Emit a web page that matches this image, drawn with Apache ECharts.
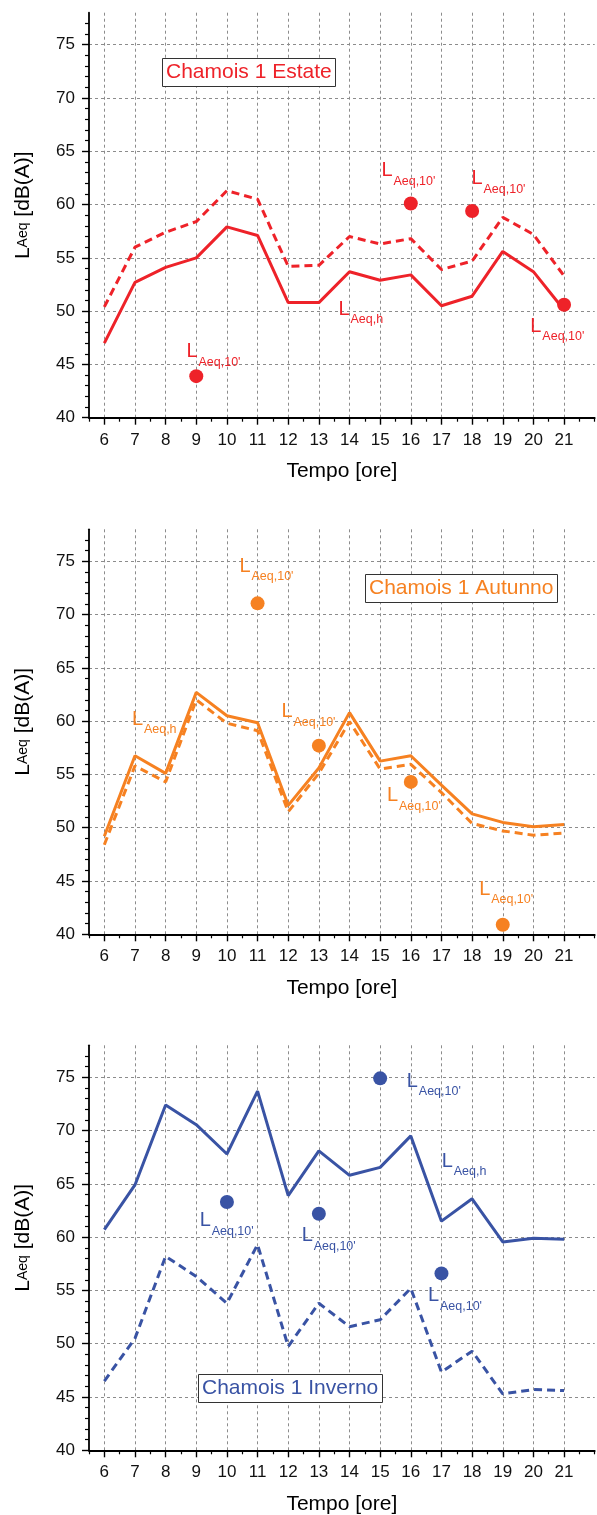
<!DOCTYPE html>
<html><head><meta charset="utf-8">
<script src="https://cdn.jsdelivr.net/npm/echarts@6/dist/echarts.min.js"></script>
<style>html,body{margin:0;padding:0;background:#fff}#c{width:597px;height:1515px}</style>
</head><body><div id="c"></div>
<script>
// ---------- data ----------
const hours = [6,7,8,9,10,11,12,13,14,15,16,17,18,19,20,21];
const yMajorTicks = [40,45,50,55,60,65,70,75];
const yMinorTicks = [41,42,43,44,46,47,48,49,51,52,53,54,56,57,58,59,61,62,63,64,66,67,68,69,71,72,73,74,76,77];

// Estate (red)
const estateHourly = [47.0,52.7,54.1,55.0,57.9,57.1,50.8,50.8,53.7,52.9,53.4,50.5,51.4,55.6,53.7,50.1];
const estateDashed = [50.4,56.0,57.4,58.4,61.3,60.5,54.2,54.3,57.0,56.3,56.8,53.9,54.7,58.8,57.2,53.3];
const estateDotHours = [9,16,18,21];
const estateDotValues = [43.9,60.1,59.4,50.6];
const estateLabelX = [8.68,15.04,17.98,13.64,19.9];
const estateLabelY = [46.2,63.15,62.4,50.16,48.56];
const estateLabelSub = ["Aeq,10'","Aeq,10'","Aeq,10'","Aeq,h","Aeq,10'"];

// Autunno (orange)
const autunnoHourly = [49.2,56.75,55.1,62.7,60.5,59.85,52.1,55.6,60.8,56.25,56.75,54.0,51.3,50.5,50.1,50.3];
const autunnoDashed = [48.4,55.8,54.3,62.0,59.8,59.1,51.5,55.1,59.95,55.5,55.95,53.3,50.4,49.7,49.3,49.5];
const autunnoDotHours = [11,13,16,19];
const autunnoDotValues = [71.05,57.7,54.3,40.9];
const autunnoLabelX = [10.41,11.78,6.9,15.22,18.23];
const autunnoLabelY = [74.55,60.86,60.2,52.98,44.2];
const autunnoLabelSub = ["Aeq,10'","Aeq,10'","Aeq,h","Aeq,10'","Aeq,10'"];

// Inverno (blue)
const invernoHourly = [60.7,64.9,72.4,70.55,67.8,73.7,63.9,68.1,65.8,66.55,69.5,61.5,63.6,59.55,59.9,59.8];
const invernoDashed = [46.5,50.5,58.2,56.3,53.8,59.3,49.75,53.8,51.6,52.25,55.2,47.35,49.3,45.3,45.7,45.6];
const invernoDotHours = [10,13,15,17];
const invernoDotValues = [63.3,62.2,74.9,56.6];
const invernoLabelX = [9.11,12.44,15.87,17.01,16.56];
const invernoLabelY = [61.55,60.14,74.6,67.1,54.5];
const invernoLabelSub = ["Aeq,10'","Aeq,10'","Aeq,10'","Aeq,h","Aeq,10'"];

const panelTitles = ["Chamois 1 Estate","Chamois 1 Autunno","Chamois 1 Inverno"];
const xAxisTitle = "Tempo [ore]";

// ---------- layout / style ----------
const FONT = '"Liberation Sans", Arial, sans-serif';
const COLORS = ['#ee2229','#f68121','#3953a4'];
const gridTops = [12.7, 529.3, 1045.3];
const GRID_LEFT = 89, GRID_W = 505.7, GRID_H = 405;
const titlePos = [[162,58],[365,574],[198,1374]];

const panels = [
  {hourly: estateHourly, dashed: estateDashed, dh: estateDotHours, dv: estateDotValues, lx: estateLabelX, ly: estateLabelY, ls: estateLabelSub},
  {hourly: autunnoHourly, dashed: autunnoDashed, dh: autunnoDotHours, dv: autunnoDotValues, lx: autunnoLabelX, ly: autunnoLabelY, ls: autunnoLabelSub},
  {hourly: invernoHourly, dashed: invernoDashed, dh: invernoDotHours, dv: invernoDotValues, lx: invernoLabelX, ly: invernoLabelY, ls: invernoLabelSub}
];

const majorX = hours;
const minorX = hours.map(h => h - 0.5).concat([21.5, 22]);

const grid = [], xAxis = [], yAxis = [], series = [], title = [];
panels.forEach((p, i) => {
  const color = COLORS[i];
  grid.push({left: GRID_LEFT, top: gridTops[i], width: GRID_W, height: GRID_H, containLabel: false, outerBoundsMode: 'none'});
  xAxis.push({
    gridIndex: i, type: 'value', min: 5.5, max: 22, interval: 0.5, position: 'bottom',
    axisLine: {show: true, onZero: false, lineStyle: {color: '#000', width: 1.8}},
    axisTick: {show: true, customValues: majorX, length: 7, inside: false, lineStyle: {color: '#000', width: 1.4}},
    axisLabel: {show: true, customValues: hours, margin: 14, fontSize: 17, color: '#111', fontFamily: FONT},
    splitLine: {show: true, lineStyle: {type: [3, 3], color: '#8c8c8c', width: 1}},
    name: xAxisTitle, nameLocation: 'middle', nameGap: 43,
    nameTextStyle: {fontSize: 21, color: '#000', fontFamily: FONT}
  });
  xAxis.push({
    gridIndex: i, type: 'value', min: 5.5, max: 22, interval: 0.5, position: 'bottom',
    axisLine: {show: false, onZero: false},
    axisTick: {show: true, customValues: minorX, length: 4, lineStyle: {color: '#000', width: 1.2}},
    axisLabel: {show: false}, splitLine: {show: false}
  });
  yAxis.push({
    gridIndex: i, type: 'value', min: 40, max: 78, interval: 5, position: 'left',
    axisLine: {show: true, onZero: false, lineStyle: {color: '#000', width: 1.8}},
    axisTick: {show: true, customValues: yMajorTicks, length: 7, lineStyle: {color: '#000', width: 1.4}},
    axisLabel: {show: true, customValues: yMajorTicks, margin: 14, fontSize: 17, color: '#111', fontFamily: FONT},
    splitLine: {show: true, lineStyle: {type: [3, 3], color: '#8c8c8c', width: 1}},
    name: '{pad|}{L|L}{s|Aeq}{t| [dB(A)]}', nameLocation: 'middle', nameRotate: 90, nameGap: 54,
    nameTextStyle: {color: '#000', fontFamily: FONT, rich: {
      pad: {width: 20, fontSize: 21, lineHeight: 24},
      L: {fontSize: 21, lineHeight: 24, fontFamily: FONT, color: '#000'},
      s: {fontSize: 14, lineHeight: 4, fontFamily: FONT, color: '#000'},
      t: {fontSize: 21, lineHeight: 24, fontFamily: FONT, color: '#000'}
    }}
  });
  yAxis.push({
    gridIndex: i, type: 'value', min: 40, max: 78, interval: 5, position: 'left',
    axisLine: {show: false, onZero: false},
    axisTick: {show: true, customValues: yMinorTicks, length: 4, lineStyle: {color: '#000', width: 1.2}},
    axisLabel: {show: false}, splitLine: {show: false}
  });
  const xi = 2 * i, yi = 2 * i;
  series.push({
    type: 'line', xAxisIndex: xi, yAxisIndex: yi, symbol: 'none', z: 3,
    lineStyle: {color: color, width: 3, type: 'solid'},
    data: hours.map((h, k) => [h, p.hourly[k]])
  });
  series.push({
    type: 'line', xAxisIndex: xi, yAxisIndex: yi, symbol: 'none', z: 3,
    lineStyle: {color: color, width: 3, type: [8, 5]},
    data: hours.map((h, k) => [h, p.dashed[k]])
  });
  series.push({
    type: 'scatter', xAxisIndex: xi, yAxisIndex: yi, symbol: 'circle', symbolSize: 14, z: 4,
    itemStyle: {color: color, opacity: 1},
    data: p.dh.map((h, k) => [h, p.dv[k]])
  });
  const subs = p.ls;
  series.push({
    type: 'custom', xAxisIndex: xi, yAxisIndex: yi, z: 5, clip: false,
    data: p.lx.map((x, k) => [x, p.ly[k]]),
    renderItem: (params, api) => {
      const pt = api.coord([api.value(0), api.value(1)]);
      return {type: 'group', children: [
        {type: 'text', x: pt[0], y: pt[1], style: {text: 'L', fontSize: 20, fontFamily: FONT, fill: color, align: 'left', verticalAlign: 'middle'}},
        {type: 'text', x: pt[0] + 12, y: pt[1] + 10.5, style: {text: subs[params.dataIndex], fontSize: 12.5, fontFamily: FONT, fill: color, align: 'left', verticalAlign: 'middle'}}
      ]};
    }
  });
  title.push({
    text: panelTitles[i], left: titlePos[i][0], top: titlePos[i][1],
    padding: [3, 4, 3, 4], borderWidth: 1, borderColor: '#333', backgroundColor: '#fff',
    textStyle: {fontSize: 21, fontWeight: 'normal', color: color, fontFamily: FONT, lineHeight: 23}
  });
});

const chart = echarts.init(document.getElementById('c'), null, {renderer: 'canvas'});
chart.setOption({animation: false, backgroundColor: '#fff', grid, xAxis, yAxis, series, title});
</script>
</body></html>
